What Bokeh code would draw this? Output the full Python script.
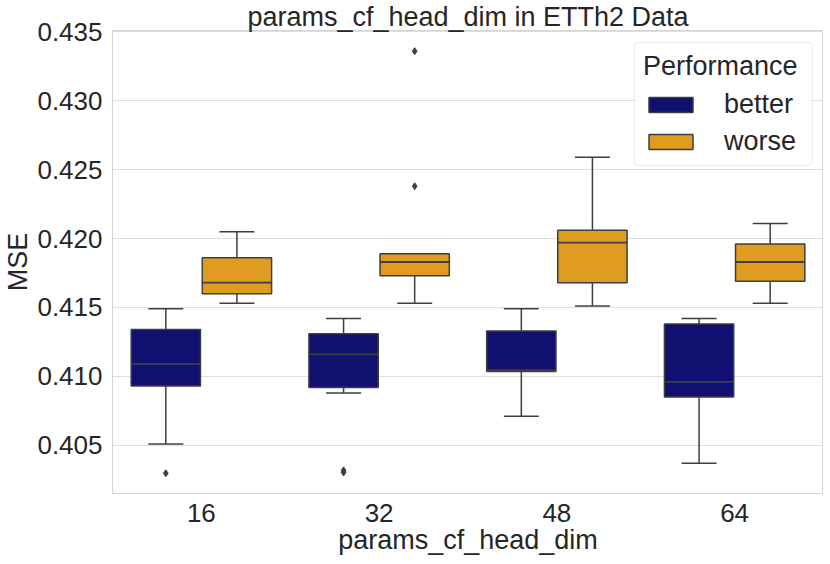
from bokeh.plotting import figure
from bokeh.models import (ColumnDataSource, FactorRange, Range1d, FixedTicker,
                          PrintfTickFormatter, Legend, LegendItem)
from bokeh.transform import dodge
from bokeh.embed import file_html
from bokeh.resources import INLINE

# ---------------- data ----------------
categories = ["16", "32", "48", "64"]

better_low = [0.4051, 0.4088, 0.4071, 0.4037]
better_q1 = [0.4093, 0.4092, 0.41036, 0.4085]
better_median = [0.4109, 0.4116, 0.41046, 0.4096]
better_q3 = [0.4134, 0.4131, 0.4133, 0.4138]
better_high = [0.4149, 0.4142, 0.4149, 0.4142]
better_outlier_cat = ["16", "32", "32"]
better_outlier_val = [0.40297, 0.40318, 0.40303]

worse_low = [0.4153, 0.4153, 0.4151, 0.4153]
worse_q1 = [0.4160, 0.4173, 0.4168, 0.4169]
worse_median = [0.4168, 0.4183, 0.4197, 0.4183]
worse_q3 = [0.4186, 0.4189, 0.4206, 0.4196]
worse_high = [0.4205, 0.4189, 0.4259, 0.4211]
worse_outlier_cat = ["32", "32"]
worse_outlier_val = [0.4336, 0.4238]

y_ticks = [0.405, 0.410, 0.415, 0.420, 0.425, 0.430, 0.435]

# ---------------- styling ----------------
FONT = "Liberation Sans"
TEXT = "#262626"
EDGE = "#3f3f3f"
BETTER = "#101070"
WORSE = "#df9c20"
BOX_W = 0.39
OFFSET = 0.2

p = figure(
    x_range=FactorRange(*categories),
    y_range=Range1d(0.4015, 0.4351),
    frame_width=711, frame_height=463,
    min_border_left=0, min_border_right=0,
    min_border_top=0, min_border_bottom=0,
    output_backend="svg", toolbar_location=None,
    title="params_cf_head_dim in ETTh2 Data",
)
p.background_fill_color = "white"
p.border_fill_color = "white"
p.outline_line_color = "#d4d4d4"
p.outline_line_width = 1

p.title.text_font = FONT
p.title.text_font_size = "27px"
p.title.text_font_style = "normal"
p.title.text_color = TEXT
p.title.align = "center"
p.title.standoff = -2
p.title.offset = 0

p.xgrid.grid_line_color = None
p.ygrid.grid_line_color = "#dedede"
p.ygrid.grid_line_width = 1

for ax in (p.xaxis[0], p.yaxis[0]):
    ax.axis_line_color = None
    ax.major_tick_line_color = None
    ax.minor_tick_line_color = None
    ax.major_tick_out = 0
    ax.major_tick_in = 0
    ax.minor_tick_out = 0
    ax.minor_tick_in = 0
    ax.major_label_text_font = FONT
    ax.major_label_text_font_size = "26px"
    ax.major_label_text_color = TEXT
    ax.axis_label_text_font = FONT
    ax.axis_label_text_font_size = "27px"
    ax.axis_label_text_font_style = "normal"
    ax.axis_label_text_color = TEXT

p.xaxis.axis_label = "params_cf_head_dim"
p.yaxis.axis_label = "MSE"
p.xaxis.major_label_standoff = 10
p.xaxis.axis_label_standoff = 0
p.yaxis.major_label_standoff = 10
p.yaxis.axis_label_standoff = 1
p.yaxis.ticker = FixedTicker(ticks=y_ticks)
p.yaxis.formatter = PrintfTickFormatter(format="%.3f")


def draw_group(offset, low, q1, med, q3, high, color, ocat, oval):
    src = ColumnDataSource(dict(cat=categories, low=low, q1=q1, med=med,
                                q3=q3, high=high))
    xc = dodge("cat", offset, range=p.x_range)
    # whiskers
    p.segment(x0=xc, y0="q3", x1=xc, y1="high", source=src,
              line_color=EDGE, line_width=1.5)
    p.segment(x0=xc, y0="q1", x1=xc, y1="low", source=src,
              line_color=EDGE, line_width=1.5)
    # caps
    p.scatter(x=xc, y="high", source=src, marker="dash", size=35,
              line_color=EDGE, line_width=1.5)
    p.scatter(x=xc, y="low", source=src, marker="dash", size=35,
              line_color=EDGE, line_width=1.5)
    # box
    box = p.vbar(x=xc, width=BOX_W, bottom="q1", top="q3", source=src,
                 fill_color=color, line_color=EDGE, line_width=1.5)
    # median
    p.segment(x0=dodge("cat", offset - BOX_W / 2, range=p.x_range), y0="med",
              x1=dodge("cat", offset + BOX_W / 2, range=p.x_range), y1="med",
              source=src, line_color=EDGE, line_width=1.8)
    # outliers
    osrc = ColumnDataSource(dict(cat=ocat, val=oval))
    p.scatter(x=dodge("cat", offset, range=p.x_range), y="val", source=osrc,
              marker="diamond", size=7, fill_color=EDGE, line_color=EDGE)
    return box


r_better = draw_group(-OFFSET, better_low, better_q1, better_median, better_q3,
                      better_high, BETTER, better_outlier_cat, better_outlier_val)
r_worse = draw_group(OFFSET, worse_low, worse_q1, worse_median, worse_q3,
                     worse_high, WORSE, worse_outlier_cat, worse_outlier_val)

legend = Legend(
    items=[LegendItem(label="better", renderers=[r_better]),
           LegendItem(label="worse", renderers=[r_worse])],
    title="Performance",
    location=(522, 327),
)
legend.title_text_font = FONT
legend.title_text_font_size = "27px"
legend.title_text_font_style = "normal"
legend.title_text_color = TEXT
legend.title_standoff = 7
legend.label_text_font = FONT
legend.label_text_font_size = "27px"
legend.label_text_color = TEXT
legend.glyph_width = 55
legend.glyph_height = 19
legend.label_standoff = 26
legend.label_width = 80
legend.spacing = 6
legend.padding = 8
legend.margin = 0
legend.border_line_color = "#d6d6d6"
legend.border_line_width = 1
legend.background_fill_color = "white"
legend.background_fill_alpha = 0.85
if "border_radius" in Legend.properties():
    legend.border_radius = 5
p.add_layout(legend)

open("out.html", "w").write(file_html(p, INLINE))
